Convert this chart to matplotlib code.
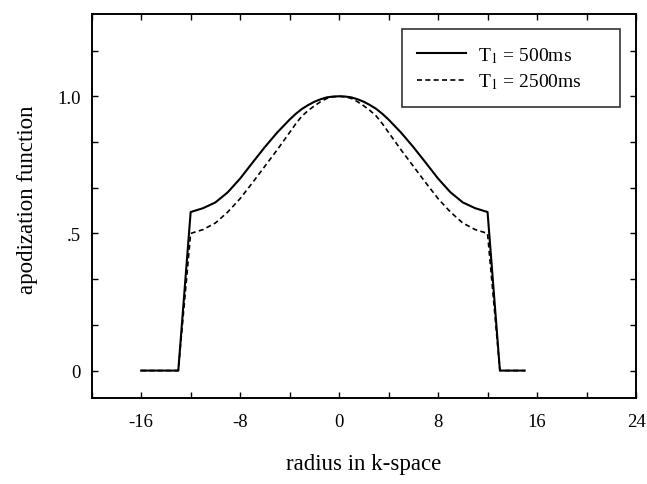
import matplotlib
matplotlib.use("Agg")
import matplotlib.pyplot as plt
import numpy as np

plt.rcParams['font.family'] = ['Liberation Serif', 'DejaVu Serif']
plt.rcParams['mathtext.fontset'] = 'stix'

# radius values (symmetric), and curve values
r_half = [0, 0.5, 1, 1.5, 2, 2.5, 3, 3.5, 4, 5, 6, 7, 8, 9, 10, 11, 12]
solid_half = [1.0, 0.999, 0.996, 0.989, 0.98, 0.968, 0.954, 0.936, 0.915, 0.868, 0.815, 0.758,
              0.700, 0.650, 0.613, 0.592, 0.578]
dashed_half = [1.0, 0.998, 0.992, 0.980, 0.965, 0.948, 0.928, 0.900, 0.868, 0.805, 0.745, 0.685,
               0.627, 0.578, 0.538, 0.514, 0.500]
edge_r = [13, 15]   # outside: zero
left_end = -16
labels = [r'T$_1$ = 500ms', r'T$_1$ = 2500ms']
xlabel = 'radius in k-space'
ylabel = 'apodization function'

def build(half):
    xs = [left_end, -edge_r[0]] + [-r for r in r_half[::-1][:-1]] + r_half + edge_r
    ys = [0, 0] + half[::-1][:-1] + half + [0, 0]
    return xs, ys

fig = plt.figure(figsize=(6.47, 4.85), dpi=100)
ax = fig.add_axes([0.1417, 0.1773, 0.8413, 0.7918])

xs, ys = build(solid_half)
ax.plot(xs, ys, color='black', lw=1.5, label=labels[0])
xs, ys = build(dashed_half)
ax.plot(xs, ys, color='black', lw=1.2, linestyle=(0, (3, 2)), label=labels[1])

ax.set_xlim(-20, 24)
ax.set_ylim(-0.1, 1.3)
ax.set_xticks(np.arange(-20, 25, 4))
ax.set_xticklabels(['' if (v % 8) else str(v) for v in range(-20, 25, 4)])
yt = [i / 6 for i in range(0, 8)]
ax.set_yticks(yt)
ylabs = {0: '0', 3: '.5', 6: '1.0'}
ax.set_yticklabels([ylabs.get(i, '') for i in range(0, 8)])
ax.tick_params(direction='in', length=4, width=1, top=True, right=True, labelsize=13.5)
ax.tick_params(axis='x', pad=11)
ax.tick_params(axis='y', pad=8)
for s in ax.spines.values():
    s.set_linewidth(1.4)

ax.set_xlabel(xlabel, fontsize=16.5)
ax.set_ylabel(ylabel, fontsize=16.5)
ax.xaxis.set_label_coords(0.5, -0.143)
ax.yaxis.set_label_coords(-0.099, 0.518)

leg = ax.legend(loc='center', bbox_to_anchor=(0.570, 0.758, 0.401, 0.203), mode='expand',
                borderaxespad=0, fontsize=14, frameon=True, fancybox=False, edgecolor='black',
                handlelength=2.5, borderpad=0.8, labelspacing=0.35, handletextpad=0.6)
leg.get_frame().set_linewidth(1.2)

fig.savefig('out.png', dpi=100)
